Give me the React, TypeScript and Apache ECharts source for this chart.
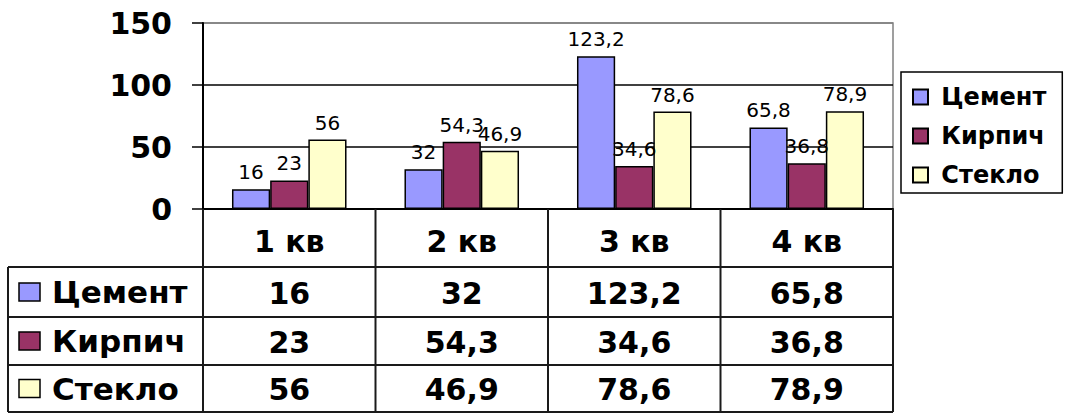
import React, { useEffect, useRef } from "react";
import * as echarts from "echarts";

const categories = ["1 кв", "2 кв", "3 кв", "4 кв"];
const seriesNames = ["Цемент", "Кирпич", "Стекло"];
const cement = [16, 32, 123.2, 65.8];
const brick = [23, 54.3, 34.6, 36.8];
const glass = [56, 46.9, 78.6, 78.9];
const seriesValues = [cement, brick, glass];
const colors = ["#9999FF", "#993366", "#FFFFCC"];
const yTicks = { min: 0, max: 150, interval: 50 };

const FONT = "DejaVu Sans";
const GRID_LEFT = 203;
const GRID_TOP = 23;
const GRID_W = 690;
const GRID_H = 186;
const TABLE_LEFT = 8;
const ROW_LINES = [267, 317, 365, 412];
const LINE_COLOR = "#1a1a1a";

const fmt = (v: number) => String(v).replace(".", ",");

export default function App() {
  const ref = useRef<HTMLDivElement>(null);
  useEffect(() => {
    if (!ref.current) return;
    const chart = echarts.init(ref.current, null, { renderer: "svg" });
    const axisY = GRID_TOP + GRID_H;
    const right = GRID_LEFT + GRID_W;
    const colW = GRID_W / categories.length;

    const graphics: any[] = [];
    const lineStyle = { stroke: LINE_COLOR, lineWidth: 2 };
    ROW_LINES.forEach((y) => {
      graphics.push({ type: "line", shape: { x1: TABLE_LEFT, y1: y, x2: right, y2: y }, style: lineStyle, z: 10 });
    });
    graphics.push({ type: "line", shape: { x1: TABLE_LEFT, y1: ROW_LINES[0], x2: TABLE_LEFT, y2: ROW_LINES[3] }, style: lineStyle, z: 10 });
    for (let i = 0; i <= categories.length; i++) {
      const x = GRID_LEFT + i * colW;
      graphics.push({ type: "line", shape: { x1: x, y1: axisY, x2: x, y2: ROW_LINES[3] }, style: lineStyle, z: 10 });
    }
    seriesNames.forEach((name, r) => {
      const top = ROW_LINES[r];
      const bottom = ROW_LINES[r + 1];
      const cy = (top + bottom) / 2;
      graphics.push({
        type: "rect",
        shape: { x: 19, y: cy - 9, width: 21, height: 18 },
        style: { fill: colors[r], stroke: "#000", lineWidth: 1.5 },
        z: 10,
      });
      graphics.push({
        type: "text",
        x: 52,
        y: cy,
        style: { text: name, font: `bold 31px "${FONT}"`, fill: "#000", verticalAlign: "middle" },
        z: 10,
      });
      seriesValues[r].forEach((v, c) => {
        graphics.push({
          type: "text",
          x: GRID_LEFT + (c + 0.5) * colW,
          y: cy + 1,
          style: { text: fmt(v), font: `bold 30px "${FONT}"`, fill: "#000", align: "center", verticalAlign: "middle" },
          z: 10,
        });
      });
    });

    chart.setOption({
      animation: false,
      backgroundColor: "#ffffff",
      grid: {
        left: GRID_LEFT,
        top: GRID_TOP,
        width: GRID_W,
        height: GRID_H,
        show: true,
        borderColor: "#808080",
        borderWidth: 1.5,
        backgroundColor: "transparent",
      },
      legend: {
        orient: "vertical",
        left: 901,
        top: 72,
        padding: [10, 16, 3, 11],
        itemWidth: 15,
        itemHeight: 15,
        itemGap: 9,
        borderColor: "#000",
        borderWidth: 1.5,
        icon: "rect",
        data: seriesNames,
        formatter: (name: string) => "\u00a0" + name,
        textStyle: {
          fontFamily: FONT,
          fontWeight: "bold",
          fontSize: 24,
          lineHeight: 30,
          color: "#000",
        },
      },
      xAxis: {
        type: "category",
        data: categories,
        axisLine: { lineStyle: { color: "#000", width: 2 } },
        axisTick: { show: false },
        axisLabel: {
          interval: 0,
          margin: 32,
          verticalAlign: "middle",
          fontFamily: FONT,
          fontWeight: "bold",
          fontSize: 30,
          color: "#000",
        },
      },
      yAxis: {
        type: "value",
        min: yTicks.min,
        max: yTicks.max,
        interval: yTicks.interval,
        axisLine: { show: true, lineStyle: { color: "#000", width: 2 } },
        axisTick: { show: true, length: 11, lineStyle: { color: "#000", width: 1.5 } },
        splitLine: { show: true, lineStyle: { color: ["#000", "#000", "#000", "#808080"], width: 1.5 } },
        axisLabel: {
          margin: 31,
          fontFamily: FONT,
          fontWeight: "bold",
          fontSize: 30,
          color: "#000",
        },
      },
      series: seriesNames.map((name, i) => ({
        name,
        type: "bar",
        data: seriesValues[i],
        barGap: "0%",
        barCategoryGap: "33.6%",
        itemStyle: { color: colors[i], borderColor: "#000", borderWidth: 1.5 },
        label: {
          show: true,
          position: "top",
          distance: 7,
          fontFamily: FONT,
          fontSize: 20,
          color: "#000",
          formatter: (p: any) => fmt(p.value),
        },
      })),
      graphic: graphics,
    });
    return () => chart.dispose();
  }, []);
  return (
    <div
      ref={ref}
      style={{ position: "fixed", left: 0, top: 0, width: 1072, height: 417, background: "#fff" }}
    />
  );
}
